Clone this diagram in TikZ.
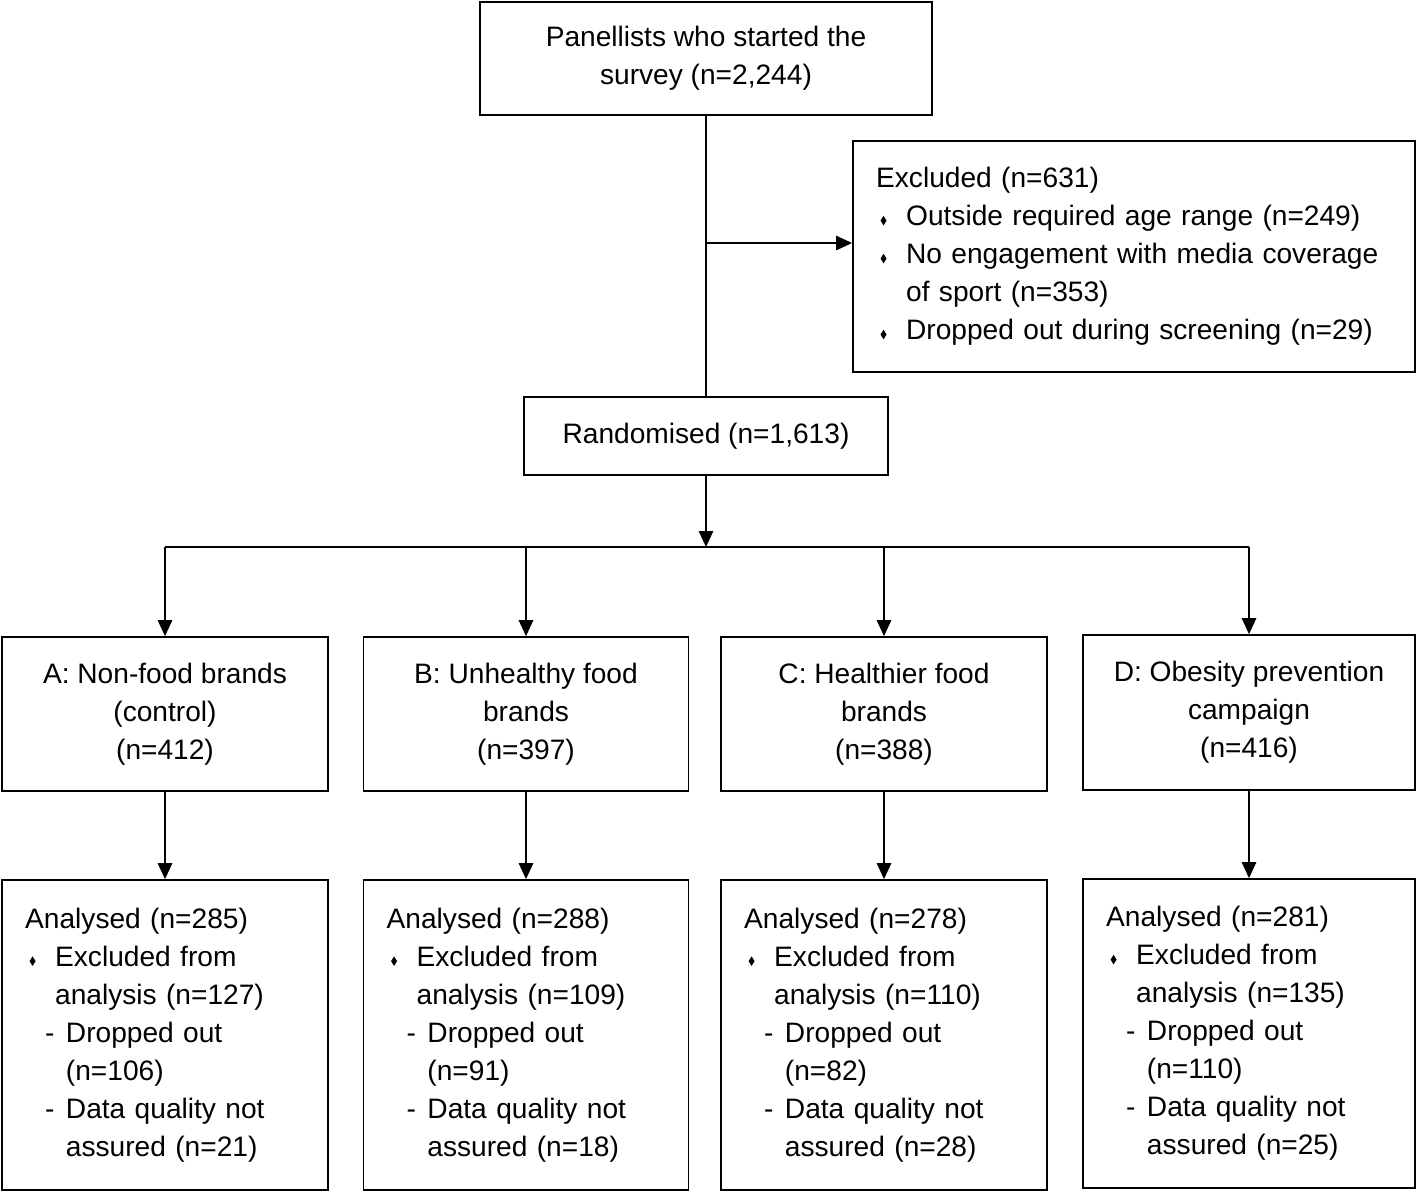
\documentclass[tikz,border=0pt]{standalone}
\usepackage{fontspec}
\setmainfont{Liberation Sans}
\usepackage{tikz}
\usetikzlibrary{positioning, arrows.meta}

% vinetas
\newcommand{\dmd}{\tikz[baseline=-0.27cm]\fill (0,-0.02cm) -- (0.075cm,-0.14cm) -- (0,-0.26cm) -- (-0.075cm,-0.14cm) -- cycle;}
\newcommand{\bitem}{\makebox[0.75cm][l]{\hspace{0.11cm}\dmd}}
\newcommand{\ditem}{\makebox[1.02cm][l]{\hspace{0.5cm}-}}
\newcommand{\bsp}{\hspace*{0.75cm}}
\newcommand{\dsp}{\hspace*{1.02cm}}

\tikzset{
  caja/.style={draw, line width=1.2pt, inner sep=0pt, align=center},
  lista/.style={draw, line width=1.2pt, inner xsep=0.58cm, inner ysep=0pt, align=left},
  flecha/.style={line width=1.2pt, -{Triangle[length=0.4cm,width=0.36cm]}},
  linea/.style={line width=1.2pt}
}

\begin{document}
\begin{tikzpicture}[x=0.025cm, y=-0.025cm, font=\fontsize{20pt}{27pt}\selectfont]
        \useasboundingbox (0,0) rectangle (1418,1192);
        % Caja superior
        \node[caja, minimum width=11.3cm, minimum height=2.825cm] (top) at (706,58.5)
            {Panellists who started the\\survey (n=2,244)};
        % Excluidos
        \node[lista, minimum height=5.775cm, text width=12.89cm] (excl) at (1134,256.5)
            {Excluded (n=631)\\
             \bitem Outside required age range (n=249)\\
             \bitem No engagement with media coverage\\
             \bsp of sport (n=353)\\
             \bitem Dropped out during screening (n=29)};
        % Aleatorizados
        \node[caja, minimum width=9.1cm, minimum height=1.95cm] (rand) at (706,436)
            {Randomised (n=1,613)};
        % Grupos
        \node[caja, minimum width=8.15cm, minimum height=3.85cm] (gA) at (165,714)
            {A: Non-food brands\\(control)\\(n=412)};
        \node[caja, minimum width=8.125cm, minimum height=3.85cm] (gB) at (526,714)
            {B: Unhealthy food\\brands\\(n=397)};
        \node[caja, minimum width=8.15cm, minimum height=3.85cm] (gC) at (884,714)
            {C: Healthier food\\brands\\(n=388)};
        \node[caja, minimum width=8.3cm, minimum height=3.875cm] (gD) at (1249,712.5)
            {D: Obesity prevention\\campaign\\(n=416)};
        % Analizados
        \node[lista, minimum height=7.75cm, text width=6.99cm] (aA) at (165,1035)
            {Analysed (n=285)\\
             \bitem Excluded from\\
             \bsp analysis (n=127)\\
             \ditem Dropped out\\
             \dsp (n=106)\\
             \ditem Data quality not\\
             \dsp assured (n=21)};
        \node[lista, minimum height=7.75cm, text width=6.965cm] (aB) at (526,1035)
            {Analysed (n=288)\\
             \bitem Excluded from\\
             \bsp analysis (n=109)\\
             \ditem Dropped out\\
             \dsp (n=91)\\
             \ditem Data quality not\\
             \dsp assured (n=18)};
        \node[lista, minimum height=7.75cm, text width=6.99cm] (aC) at (884,1035)
            {Analysed (n=278)\\
             \bitem Excluded from\\
             \bsp analysis (n=110)\\
             \ditem Dropped out\\
             \dsp (n=82)\\
             \ditem Data quality not\\
             \dsp assured (n=28)};
        \node[lista, minimum height=7.725cm, text width=7.14cm] (aD) at (1249,1033.5)
            {Analysed (n=281)\\
             \bitem Excluded from\\
             \bsp analysis (n=135)\\
             \ditem Dropped out\\
             \dsp (n=110)\\
             \ditem Data quality not\\
             \dsp assured (n=25)};
        % Lineas
        \coordinate (split) at (706,243);
        \coordinate (bar) at (706,547);
        \draw[linea] (top.south) -- (rand.north);
        \draw[flecha] (split) -- (split -| excl.west);
        \draw[flecha] (rand.south) -- (bar);
        \draw[linea] (gA.north |- bar) -- (gD.north |- bar);
        \foreach \g in {A,B,C,D}{
            \draw[flecha] (g\g.north |- bar) -- (g\g.north);
            \draw[flecha] (g\g.south) -- (a\g.north);
        }
\end{tikzpicture}
\end{document}
